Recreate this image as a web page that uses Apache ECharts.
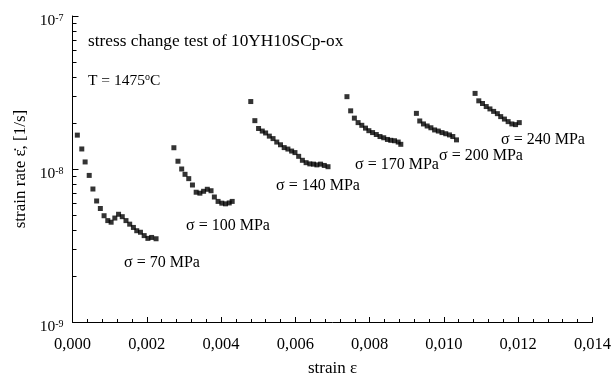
<!DOCTYPE html>
<html>
<head>
<meta charset="utf-8">
<script src="https://cdn.jsdelivr.net/npm/echarts@6/dist/echarts.min.js"></script>
<style>
  html, body { margin: 0; padding: 0; background: #fff; }
  #chart { width: 614px; height: 382px; }
</style>
</head>
<body>
<div id="chart"></div>
<script>
// Strain (x) and strain rate in 1/s (y) for each stress step
const strain70 = [0.00013, 0.00025, 0.00034, 0.00045, 0.00055, 0.00065, 0.00075, 0.00085, 0.00095, 0.00104, 0.00114, 0.00124, 0.00134, 0.00144, 0.00154, 0.00164, 0.00173, 0.00183, 0.00193, 0.00203, 0.00213, 0.00225];
const rate70 = [1.665e-8, 1.352e-8, 1.112e-8, 9.08e-9, 7.40e-9, 6.18e-9, 5.52e-9, 4.95e-9, 4.60e-9, 4.49e-9, 4.78e-9, 5.06e-9, 4.88e-9, 4.60e-9, 4.36e-9, 4.15e-9, 3.95e-9, 3.86e-9, 3.67e-9, 3.52e-9, 3.57e-9, 3.50e-9];

const strain100 = [0.00273, 0.00284, 0.00294, 0.00303, 0.00313, 0.00323, 0.00333, 0.00343, 0.00353, 0.00363, 0.00373, 0.00382, 0.00392, 0.00402, 0.00412, 0.00422, 0.00430];
const rate100 = [1.377e-8, 1.124e-8, 1.0e-8, 9.23e-9, 8.65e-9, 7.86e-9, 7.05e-9, 6.95e-9, 7.15e-9, 7.37e-9, 7.21e-9, 6.56e-9, 6.14e-9, 5.98e-9, 5.92e-9, 6.00e-9, 6.14e-9];

const strain140 = [0.00480, 0.00491, 0.00501, 0.00511, 0.00520, 0.00530, 0.00540, 0.00550, 0.00560, 0.00570, 0.00580, 0.00590, 0.00599, 0.00609, 0.00619, 0.00629, 0.00639, 0.00649, 0.00658, 0.00668, 0.00678, 0.00688];
const rate140 = [2.76e-8, 2.07e-8, 1.84e-8, 1.77e-8, 1.72e-8, 1.64e-8, 1.58e-8, 1.50e-8, 1.44e-8, 1.38e-8, 1.35e-8, 1.31e-8, 1.28e-8, 1.21e-8, 1.14e-8, 1.10e-8, 1.08e-8, 1.076e-8, 1.064e-8, 1.076e-8, 1.055e-8, 1.035e-8];

const strain170 = [0.00739, 0.00749, 0.00759, 0.00769, 0.00779, 0.00789, 0.00798, 0.00808, 0.00818, 0.00828, 0.00838, 0.00848, 0.00857, 0.00867, 0.00877, 0.00884];
const rate170 = [2.97e-8, 2.40e-8, 2.15e-8, 2.01e-8, 1.93e-8, 1.85e-8, 1.78e-8, 1.73e-8, 1.68e-8, 1.63e-8, 1.60e-8, 1.56e-8, 1.54e-8, 1.53e-8, 1.50e-8, 1.45e-8];

const strain200 = [0.00926, 0.00935, 0.00945, 0.00955, 0.00965, 0.00975, 0.00985, 0.00995, 0.01005, 0.01015, 0.01024, 0.01034];
const rate200 = [2.31e-8, 2.06e-8, 1.97e-8, 1.91e-8, 1.86e-8, 1.80e-8, 1.77e-8, 1.73e-8, 1.70e-8, 1.67e-8, 1.63e-8, 1.55e-8];

const strain240 = [0.01084, 0.01094, 0.01104, 0.01114, 0.01124, 0.01134, 0.01144, 0.01153, 0.01163, 0.01173, 0.01183, 0.01193, 0.01203];
const rate240 = [3.12e-8, 2.79e-8, 2.68e-8, 2.56e-8, 2.47e-8, 2.38e-8, 2.30e-8, 2.20e-8, 2.12e-8, 2.04e-8, 1.97e-8, 1.95e-8, 2.01e-8];

const stressLabels = ['σ = 70 MPa', 'σ = 100 MPa', 'σ = 140 MPa', 'σ = 170 MPa', 'σ = 200 MPa', 'σ = 240 MPa'];

// Log axis: decades (labelled) and intermediate ticks (2..9 per decade)
const yDecades = [1e-9, 1e-8, 1e-7];
const yExponents = ['-9', '-8', '-7'];
const yMinorTicks = [2e-9, 3e-9, 4e-9, 5e-9, 6e-9, 7e-9, 8e-9, 9e-9, 2e-8, 3e-8, 4e-8, 5e-8, 6e-8, 7e-8, 8e-8, 9e-8];

const FONT = 'Liberation Serif';

const groups = [
  [strain70, rate70], [strain100, rate100], [strain140, rate140],
  [strain170, rate170], [strain200, rate200], [strain240, rate240]
];

function pairs(xs, ys) { return xs.map((x, i) => [x, ys[i]]); }

function decadeLabel(v) {
  const i = yDecades.findIndex(d => Math.abs(Math.log10(d) - Math.log10(v)) < 1e-6);
  return i < 0 ? '' : '{b|10}{s|' + yExponents[i] + '}';
}

const chart = echarts.init(document.getElementById('chart'), null, { renderer: 'canvas' });

const axisLineStyle = { color: '#000', width: 1 };
const textFont = '16px "' + FONT + '"';

const staticGraphics = [
  { type: 'text', left: 88, top: 33, style: { text: 'stress change test of 10YH10SCp-ox', font: '17.3px "' + FONT + '"', fill: '#000' } },
  {
    type: 'text', left: 88, top: 72,
    style: {
      text: '{a|T = 1475}{o|o}{a|C}',
      rich: {
        a: { fontFamily: FONT, fontSize: 15.5, fill: '#000', lineHeight: 17 },
        o: { fontFamily: FONT, fontSize: 10, fill: '#000', padding: [0, 0, 7, 0], lineHeight: 17 }
      }
    }
  },
  { type: 'text', left: 124, top: 255, style: { text: stressLabels[0], font: textFont, fill: '#000' } },
  { type: 'text', left: 186, top: 218, style: { text: stressLabels[1], font: textFont, fill: '#000' } },
  { type: 'text', left: 276, top: 178, style: { text: stressLabels[2], font: textFont, fill: '#000' } },
  { type: 'text', left: 355, top: 157, style: { text: stressLabels[3], font: textFont, fill: '#000' } },
  { type: 'text', left: 439, top: 148, style: { text: stressLabels[4], font: textFont, fill: '#000' } },
  { type: 'text', left: 501, top: 132, style: { text: stressLabels[5], font: textFont, fill: '#000' } }
];

const option = {
  backgroundColor: '#fff',
  animation: false,
  grid: { left: 72.5, right: 21, top: 16, bottom: 50, containLabel: false },
  xAxis: {
    type: 'value',
    min: 0, max: 0.014, interval: 0.002,
    name: 'strain ε',
    nameLocation: 'middle',
    nameGap: 38,
    nameTextStyle: { fontFamily: FONT, fontSize: 17, color: '#000' },
    axisLine: { show: true, lineStyle: axisLineStyle },
    axisTick: { show: true, inside: true, length: 5, lineStyle: axisLineStyle },
    minorTick: { show: true, splitNumber: 5, length: 3, lineStyle: axisLineStyle },
    splitLine: { show: false },
    axisLabel: {
      margin: 14,
      fontFamily: FONT, fontSize: 16.5, color: '#000',
      formatter: v => v.toFixed(3).replace('.', ',')
    }
  },
  yAxis: {
    type: 'log', logBase: 10, min: 1e-9, max: 1e-7,
    name: 'strain rate ε̇, [1/s]',
    nameLocation: 'middle',
    nameGap: 40,
    nameRotate: 90,
    nameTextStyle: { fontFamily: FONT, fontSize: 17, color: '#000' },
    axisLine: { show: true, lineStyle: axisLineStyle },
    axisTick: { show: false },
    splitLine: { show: false },
    axisLabel: {
      margin: 9,
      padding: [10, 0, 0, 0],
      formatter: decadeLabel,
      rich: {
        b: { fontFamily: FONT, fontSize: 15.5, color: '#000', verticalAlign: 'bottom', lineHeight: 15 },
        s: { fontFamily: FONT, fontSize: 10, color: '#000', verticalAlign: 'top', lineHeight: 10, padding: [0, 0, 8, 0] }
      }
    }
  },
  graphic: staticGraphics,
  series: groups.map((g, i) => ({
    name: stressLabels[i],
    type: 'scatter',
    symbol: 'rect',
    symbolSize: 5,
    itemStyle: { color: '#000' },
    data: pairs(g[0], g[1])
  }))
};

chart.setOption(option);

// Ticks on the log axis, placed through the axis scale (inward, to the right)
const axisX = chart.convertToPixel({ xAxisIndex: 0 }, 0);
function tickLine(v, len) {
  const y = Math.round(chart.convertToPixel({ yAxisIndex: 0 }, v)) + 0.5;
  return {
    type: 'line', silent: true,
    shape: { x1: axisX, y1: y, x2: axisX + len, y2: y },
    style: { stroke: '#000', lineWidth: 1 }
  };
}
const yTicks = yDecades.map(v => tickLine(v, 6)).concat(yMinorTicks.map(v => tickLine(v, 4)));
chart.setOption({ graphic: staticGraphics.concat(yTicks) });
</script>
</body>
</html>
